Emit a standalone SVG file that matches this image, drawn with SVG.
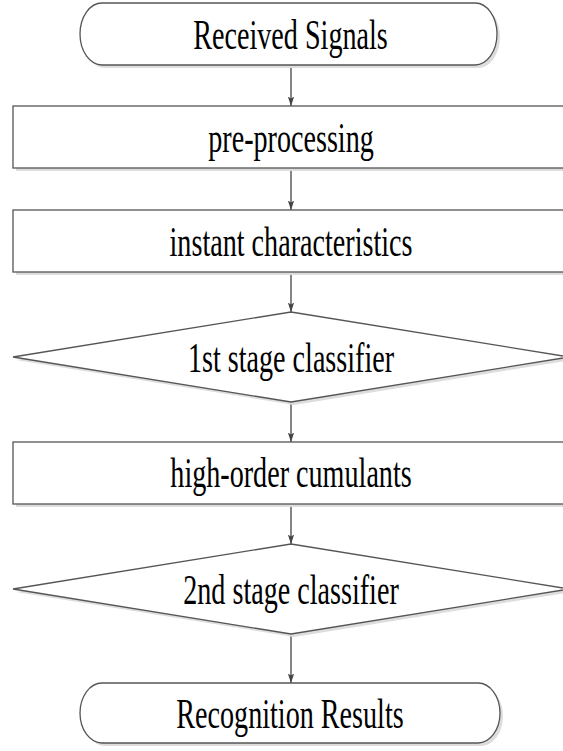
<svg xmlns="http://www.w3.org/2000/svg" width="563" height="751" viewBox="0 0 563 751">
<style>
.shape{fill:#ffffff;stroke:#555555;stroke-width:1.3}
.shadow{fill:#dddddd;stroke:none}
.lbl{font-family:"Liberation Serif","Times New Roman",serif;font-size:42px;fill:#000000;text-anchor:middle}
.conn{stroke:#444444;stroke-width:1.3;fill:none}
</style>
<defs>
<marker id="arr" markerUnits="userSpaceOnUse" markerWidth="12" markerHeight="16" refX="5" refY="15" orient="auto-start-reverse" viewBox="0 0 10 16">
<path d="M0,0 L5,15 L10,0 L5,4 Z" fill="#444444" transform="rotate(-90 5 8)"/>
</marker>
<marker id="ah" markerUnits="userSpaceOnUse" markerWidth="10" markerHeight="16" refX="15" refY="5" orient="auto" viewBox="0 0 16 10">
<path d="M0,0 L15,5 L0,10 L3,5 Z" fill="#444444"/>
</marker>
</defs>
<g id="connectors">
<line class="conn" x1="291" y1="65" x2="291" y2="106" marker-end="url(#ah)"/>
<line class="conn" x1="291" y1="168" x2="291" y2="210" marker-end="url(#ah)"/>
<line class="conn" x1="291" y1="272" x2="291" y2="312" marker-end="url(#ah)"/>
<line class="conn" x1="291" y1="402" x2="291" y2="442" marker-end="url(#ah)"/>
<line class="conn" x1="291" y1="504" x2="291" y2="544" marker-end="url(#ah)"/>
<line class="conn" x1="291" y1="634" x2="291" y2="683" marker-end="url(#ah)"/>
</g>
<g id="n1">
<rect class="shadow" x="83" y="6" width="417" height="62" rx="22" ry="31"/>
<rect class="shape" x="80" y="3" width="417" height="62" rx="22" ry="31"/>
<text class="lbl" transform="translate(290.5,49) scale(0.67,1)">Received Signals</text>
</g>
<g id="n2">
<rect class="shadow" x="16" y="109" width="556" height="62"/>
<rect class="shape" x="13" y="106" width="556" height="62"/>
<text class="lbl" transform="translate(291,152) scale(0.67,1)">pre-processing</text>
</g>
<g id="n3">
<rect class="shadow" x="16" y="213" width="556" height="62"/>
<rect class="shape" x="13" y="210" width="556" height="62"/>
<text class="lbl" transform="translate(291,256) scale(0.67,1)">instant characteristics</text>
</g>
<g id="n4">
<polygon class="shadow" points="294,315 572,360 294,405 16,360"/>
<polygon class="shape" points="291,312 569,357 291,402 13,357"/>
<text class="lbl" transform="translate(291,372) scale(0.67,1)">1st stage classifier</text>
</g>
<g id="n5">
<rect class="shadow" x="16" y="445" width="556" height="62"/>
<rect class="shape" x="13" y="442" width="556" height="62"/>
<text class="lbl" transform="translate(291,487) scale(0.67,1)">high-order cumulants</text>
</g>
<g id="n6">
<polygon class="shadow" points="294,547 572,592 294,637 16,592"/>
<polygon class="shape" points="291,544 569,589 291,634 13,589"/>
<text class="lbl" transform="translate(291,604) scale(0.67,1)">2nd stage classifier</text>
</g>
<g id="n7">
<rect class="shadow" x="83" y="686" width="420" height="60" rx="22" ry="30"/>
<rect class="shape" x="80" y="683" width="420" height="60" rx="22" ry="30"/>
<text class="lbl" transform="translate(290,728) scale(0.67,1)">Recognition Results</text>
</g>
</svg>
